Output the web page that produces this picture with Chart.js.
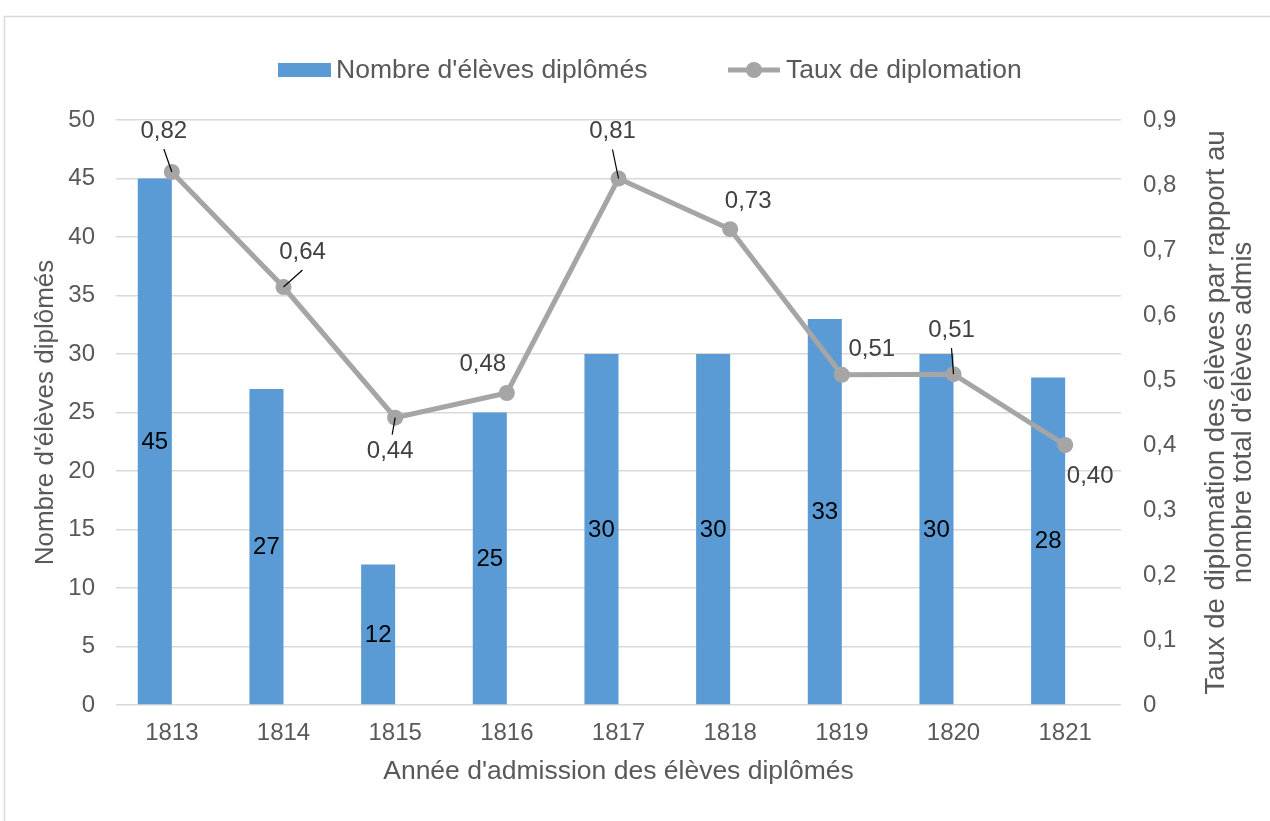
<!DOCTYPE html>
<html>
<head>
<meta charset="utf-8">
<script src="https://cdn.jsdelivr.net/npm/chart.js@4/dist/chart.umd.min.js"></script>
<style>
  html, body { margin: 0; padding: 0; background: #fff; }
  #wrap { width: 1270px; height: 821px; position: relative; }
</style>
</head>
<body>
<div id="wrap"><canvas id="chart" width="1270" height="821"></canvas></div>
<script>
'use strict';

// data
var years = ['1813', '1814', '1815', '1816', '1817', '1818', '1819', '1820', '1821'];
var diplomes = [45, 27, 12, 25, 30, 30, 33, 30, 28];
var taux = [0.82, 0.643, 0.442, 0.48, 0.81, 0.732, 0.508, 0.509, 0.40];

var seriesBar = "Nombre d'élèves diplômés";
var seriesLine = 'Taux de diplomation';
var titleX = "Année d'admission des élèves diplômés";
var titleLeft = "Nombre d'élèves diplômés";
var titleRight = ["Taux de diplomation des élèves par rapport au", "nombre total d'élèves admis"];

// where each line label sits relative to its point (dx, dy, leader line?)
var lineLabelPos = [
  [-8, -41, true], [19, -35, true], [-5, 34, true], [-24, -29, false], [-6, -47, true],
  [18, -28, false], [30, -25, false], [-2, -44, true], [25, 31, false]
];

var FONT = '"Liberation Sans", Arial, sans-serif';
var BLUE = '#5B9BD5';
var GREY = '#A5A5A5';
var TXT = '#595959';

function comma(v, d) {
  return v.toFixed(d).replace('.', ',');
}

var decor = {
  id: 'decor',
  beforeDraw: function(chart) {
    var ctx = chart.ctx;
    ctx.save();
    ctx.fillStyle = '#fff';
    ctx.fillRect(0, 0, chart.width, chart.height);
    ctx.strokeStyle = '#D9D9D9';
    ctx.lineWidth = 1.5;
    ctx.strokeRect(4.5, 16.5, chart.width + 10, chart.height + 10);
    ctx.restore();
  },
  afterDraw: function(chart) {
    var ctx = chart.ctx;
    var area = chart.chartArea;
    var midY = (area.top + area.bottom) / 2;
    ctx.save();

    // legend
    ctx.fillStyle = BLUE;
    ctx.fillRect(278, 63, 53, 14);
    ctx.strokeStyle = GREY;
    ctx.lineWidth = 5;
    ctx.beginPath();
    ctx.moveTo(728, 70);
    ctx.lineTo(780, 70);
    ctx.stroke();
    ctx.fillStyle = GREY;
    ctx.beginPath();
    ctx.arc(754, 70, 8, 0, Math.PI * 2);
    ctx.fill();
    ctx.font = '26.5px ' + FONT;
    ctx.fillStyle = TXT;
    ctx.textAlign = 'left';
    ctx.textBaseline = 'middle';
    ctx.fillText(seriesBar, 336, 71);
    ctx.fillText(seriesLine, 786, 71);

    // axis titles
    ctx.textAlign = 'center';
    ctx.fillText(titleX, (area.left + area.right) / 2, 772);
    ctx.save();
    ctx.font = '26px ' + FONT;
    ctx.translate(46, midY);
    ctx.rotate(-Math.PI / 2);
    ctx.fillText(titleLeft, 0, 0);
    ctx.restore();
    ctx.save();
    ctx.font = '27.5px ' + FONT;
    ctx.translate(1216, midY);
    ctx.rotate(-Math.PI / 2);
    ctx.fillText(titleRight[0], 0, 0);
    ctx.fillText(titleRight[1], 0, 27);
    ctx.restore();

    // bar labels
    ctx.font = '24px ' + FONT;
    ctx.fillStyle = '#000';
    var barMeta = chart.getDatasetMeta(1);
    barMeta.data.forEach(function(bar, i) {
      ctx.fillText(String(diplomes[i]), bar.x, (bar.y + bar.base) / 2 + 1);
    });

    // line labels
    var lineMeta = chart.getDatasetMeta(0);
    lineMeta.data.forEach(function(pt, i) {
      var p = lineLabelPos[i];
      var lx = pt.x + p[0];
      var ly = pt.y + p[1];
      if (p[2]) {
        ctx.strokeStyle = '#000';
        ctx.lineWidth = 1.2;
        ctx.beginPath();
        var sy = p[1] < 0 ? ly + 18 : ly - 17;
        ctx.moveTo(lx + (p[1] < 0 ? 0 : 2), sy);
        ctx.lineTo(pt.x, pt.y);
        ctx.stroke();
      }
      ctx.fillStyle = '#404040';
      ctx.fillText(comma(taux[i], 2), lx, ly);
    });
    ctx.restore();
  }
};

var ctx = document.getElementById('chart').getContext('2d');
var chart = new Chart(ctx, {
  type: 'bar',
  data: {
    labels: years,
    datasets: [{
      type: 'line',
      label: seriesLine,
      data: taux,
      yAxisID: 'yRight',
      borderColor: GREY,
      backgroundColor: GREY,
      borderWidth: 5,
      pointRadius: 8,
      pointBackgroundColor: GREY,
      pointBorderWidth: 0,
      tension: 0,
      order: 0
    }, {
      label: seriesBar,
      data: diplomes,
      yAxisID: 'y',
      backgroundColor: BLUE,
      categoryPercentage: 0.61,
      barPercentage: 1,
      order: 1
    }, {
      label: '',
      data: years.map(function() { return null; }),
      yAxisID: 'y',
      backgroundColor: 'rgba(0,0,0,0)',
      categoryPercentage: 0.61,
      barPercentage: 1,
      order: 2
    }]
  },
  options: {
    responsive: false,
    animation: false,
    layout: { padding: { top: 120, left: 0, right: 0, bottom: 0 } },
    plugins: {
      legend: { display: false },
      tooltip: { enabled: false }
    },
    scales: {
      x: {
        grid: { display: false, drawTicks: false },
        border: { display: false },
        ticks: { color: TXT, font: { family: FONT, size: 24 }, padding: 14 },
        afterFit: function(s) { s.height = 116; }
      },
      y: {
        position: 'left',
        min: 0,
        max: 50,
        grid: { color: '#D9D9D9', lineWidth: 1.5, drawTicks: false },
        border: { display: false },
        ticks: { stepSize: 5, color: TXT, font: { family: FONT, size: 24 }, padding: 21 },
        afterFit: function(s) { s.width = 116; }
      },
      yRight: {
        position: 'right',
        min: 0,
        max: 0.9,
        grid: { display: false, drawTicks: false },
        border: { display: false },
        ticks: {
          stepSize: 0.1,
          color: TXT,
          font: { family: FONT, size: 24 },
          padding: 22,
          callback: function(v) { return v === 0 ? '0' : comma(v, 1); }
        },
        afterFit: function(s) { s.width = 149; }
      }
    }
  },
  plugins: [decor]
});
</script>
</body>
</html>
